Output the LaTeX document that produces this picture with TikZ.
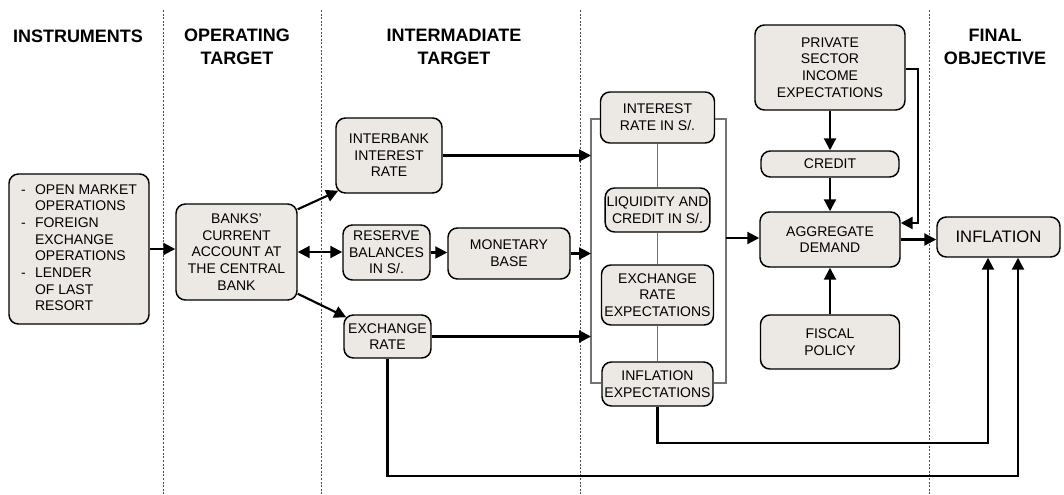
\documentclass[tikz,border=0pt]{standalone}
\usepackage{fontspec}
\setmainfont{Liberation Sans}
\usetikzlibrary{arrows.meta,calc}
\definecolor{boxfill}{RGB}{236,232,228}
\begin{document}
\begin{tikzpicture}[x=0.75pt,y=-0.75pt,
 box/.style={draw, fill=boxfill, rounded corners=7pt, line width=1.1pt, align=center, inner sep=1pt, font=\fontsize{10.5}{12.5}\selectfont},
 sz/.style 2 args={minimum width={#1*0.75pt}, minimum height={#2*0.75pt}},
 hdr/.style={font=\fontsize{13.5}{17}\selectfont\bfseries, align=center},
 arr/.style={line width=1.6pt, -{Triangle[length=9pt,width=9pt]}},
 darr/.style={line width=1.6pt, {Triangle[length=9pt,width=9pt]}-{Triangle[length=9pt,width=9pt]}},
 brk/.style={line width=0.8pt, draw=black!55},
 sep/.style={line width=0.5pt, dash pattern=on 1.5pt off 1.2pt, draw=black!70}]
\useasboundingbox (0,0) rectangle (1064,494);

% column separators
\foreach \x in {163,321,580,929} \draw[sep] (\x,10) -- (\x,494);

% headers
\node[hdr] (h1) at (78,36) {INSTRUMENTS};
\node[hdr] (h2) at (237,47) {OPERATING\\TARGET};
\node[hdr] (h3) at (454,47) {INTERMADIATE\\TARGET};
\node[hdr] (h4) at (995,47) {FINAL\\OBJECTIVE};

% nodes
\node[box, sz={140}{150}] (instr) at (79,249) {\begin{tabular}{@{}l@{\hspace{7pt}}l@{}}-&OPEN MARKET\\&OPERATIONS\\-&FOREIGN\\&EXCHANGE\\&OPERATIONS\\-&LENDER\\&OF LAST\\&RESORT\end{tabular}};
\node[box, sz={121}{96}] (banks) at (236.5,252) {BANKS'\\CURRENT\\ACCOUNT AT\\THE CENTRAL\\BANK};
\node[box, sz={106}{75}] (inter) at (389,155.5) {INTERBANK\\INTEREST\\RATE};
\node[box, sz={87}{55}] (res) at (386.5,252.5) {RESERVE\\BALANCES\\IN S/.};
\node[box, sz={122}{51}] (mb) at (509,253.5) {MONETARY\\BASE};
\node[box, sz={87}{43}] (exch) at (387.5,336.5) {EXCHANGE\\RATE};

\node[box, sz={114}{51}] (irate) at (657.5,117.5) {INTEREST\\RATE IN S/.};
\node[box, sz={104}{44}] (liq) at (657.5,210) {LIQUIDITY AND\\CREDIT IN S/.};
\node[box, sz={112}{60}] (exexp) at (657.5,295) {EXCHANGE\\RATE\\EXPECTATIONS};
\node[box, sz={111}{44}] (infexp) at (657.5,384) {INFLATION\\EXPECTATIONS};

\node[box, sz={150}{85}] (priv) at (830,67.5) {PRIVATE\\SECTOR\\INCOME\\EXPECTATIONS};
\node[box, sz={138}{26}] (credit) at (830,164) {CREDIT};
\node[box, sz={140}{55}] (ad) at (830,239.5) {AGGREGATE\\DEMAND};
\node[box, sz={139}{54}] (fiscal) at (830,342) {FISCAL\\POLICY};
\node[box, sz={123}{40}, font=\fontsize{12.5}{14}\selectfont] (infl) at (998.5,237) {INFLATION};

% bracket
\coordinate (bl) at (591,119);
\coordinate (bl2) at (591,383);
\coordinate (br) at (726,119);
\coordinate (br2) at (726,383);
\draw[brk] (irate.west |- bl) -- (bl) -- (bl2) -- (infexp.west |- bl2);
\draw[brk] (irate.east |- br) -- (br) -- (br2) -- (infexp.east |- br2);
\draw[brk] (irate.south) -- (liq.north);
\draw[brk] (liq.south) -- (exexp.north);
\draw[brk] (exexp.south) -- (infexp.north);

% connectors
\draw[arr] (instr.east) -- (instr.east -| banks.west);
\draw[arr] ($(banks.north east)+(0,6)$) -- ($(inter.south west)+(3,-3)$);
\draw[arr] ($(banks.south east)+(0,-7)$) -- ($(exch.north west)+(3,3)$);
\draw[darr] (banks.east) -- (banks.east -| res.west);
\draw[arr] (res.east) -- (res.east -| mb.west);
\draw[arr] (inter.east) -- (inter.east -| bl);
\draw[arr] (mb.east) -- (mb.east -| bl);
\draw[arr] (exch.east) -- (exch.east -| bl);

\coordinate (bo) at (726,238);
\draw[arr] (bo) -- (bo -| ad.west);
\draw[arr] (priv.south) -- (credit.north);
\draw[arr] (credit.south) -- (ad.north);
\draw[arr] (fiscal.north) -- (ad.south);
\coordinate (p1) at (918,69);
\coordinate (p2) at (918,223);
\draw[arr] (priv.east |- p1) -- (p1) -- (p2) -- (p2 -| ad.east);
\draw[arr] (ad.east) -- (ad.east -| infl.west);

\coordinate (l1) at (988,443);
\coordinate (l2) at (1018,476);
\draw[arr] (infexp.south) |- (l1) -- (l1 |- infl.south);
\draw[arr] (exch.south) |- (l2) -- (l2 |- infl.south);
\end{tikzpicture}
\end{document}
